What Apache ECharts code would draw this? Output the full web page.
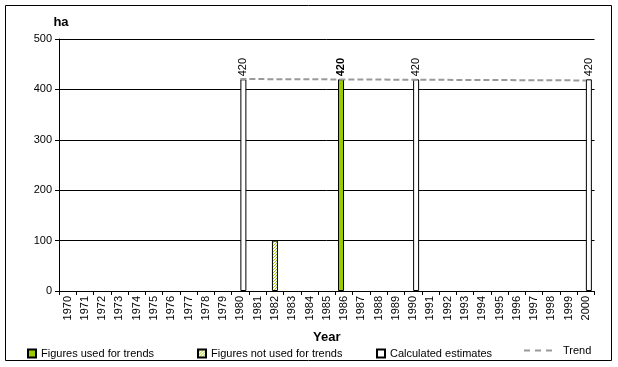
<!DOCTYPE html>
<html>
<head>
<meta charset="utf-8">
<script src="https://cdn.jsdelivr.net/npm/echarts@6/dist/echarts.min.js"></script>
<style>html,body{margin:0;padding:0;background:#fff;}#c{width:618px;height:367px;}</style>
</head>
<body>
<div id="c"></div>
<script>
const years = ['1970','1971','1972','1973','1974','1975','1976','1977','1978','1979','1980','1981','1982','1983','1984','1985','1986','1987','1988','1989','1990','1991','1992','1993','1994','1995','1996','1997','1998','1999','2000'];
const usedForTrends = {'1986': 420};
const notUsedForTrends = {'1982': 100};
const calculatedEstimates = {'1980': 420, '1990': 420, '2000': 420};
const trend = {'1980': 420.6, '2000': 417.8};
const yTicks = [0, 100, 200, 300, 400, 500];

function toSeries(obj) { return years.map(y => (y in obj ? obj[y] : null)); }

const FONT = 'Arial, "Liberation Sans", sans-serif';
const GREEN = '#99cc00';

// hatched pattern
const pc = document.createElement('canvas');
pc.width = 3; pc.height = 3;
const px = pc.getContext('2d');
px.fillStyle = '#ffffff'; px.fillRect(0, 0, 3, 3);
px.fillStyle = GREEN;
px.fillRect(2, 0, 1, 1); px.fillRect(1, 1, 1, 1); px.fillRect(0, 2, 1, 1);

const chart = echarts.init(document.getElementById('c'), null, {renderer: 'canvas'});

const barLabel = (bold) => ({
  show: true, position: 'top', rotate: 90, align: 'left', verticalAlign: 'middle',
  distance: 3, color: '#000', fontFamily: FONT, fontSize: 11, fontWeight: bold ? 'bold' : 'normal',
  formatter: p => (p.value == null ? '' : String(p.value))
});

const txt = {fontFamily: FONT, fontSize: 11, color: '#000'};

chart.setOption({
  animation: false,
  backgroundColor: '#fff',
  grid: {left: 59, top: 39, right: 23.5, bottom: 76, containLabel: false},
  graphic: [{
    type: 'rect', shape: {x: 5.5, y: 5.5, width: 606, height: 355},
    style: {fill: 'none', stroke: '#000', lineWidth: 1}, silent: true, z: -10
  }],
  legend: [
    {left: 22, top: 343, itemWidth: 8, itemHeight: 8, icon: 'rect', textStyle: txt, data: ['Figures used for trends']},
    {left: 192, top: 343, itemWidth: 8, itemHeight: 8, icon: 'rect', textStyle: txt, data: ['Figures not used for trends']},
    {left: 371, top: 343, itemWidth: 8, itemHeight: 8, icon: 'rect', textStyle: txt, data: ['Calculated estimates']},
    {left: 519, top: 340, itemWidth: 28, itemHeight: 2,
      icon: 'path://M0,0h6v2h-6z M11,0h6v2h-6z M22,0h6v2h-6z',
      itemStyle: {color: '#999999', borderWidth: 0},
      textStyle: Object.assign({}, txt, {padding: [0, 0, 2, 6]}), data: ['Trend']}
  ],
  xAxis: {
    type: 'category', data: years, boundaryGap: true,
    name: 'Year', nameLocation: 'middle', nameGap: 46,
    nameTextStyle: {fontFamily: FONT, fontSize: 13, fontWeight: 'bold', color: '#000', verticalAlign: 'middle'},
    axisLine: {show: true, lineStyle: {color: '#000', width: 1}},
    axisTick: {show: true, interval: 0, length: 4, lineStyle: {color: '#000'}},
    axisLabel: {interval: 0, rotate: 90, margin: 5, fontFamily: FONT, fontSize: 11, color: '#000'},
    splitLine: {show: false}
  },
  yAxis: {
    type: 'value', min: 0, max: 500, interval: 100,
    name: 'ha', nameLocation: 'end', nameGap: 17,
    nameTextStyle: {fontFamily: FONT, fontSize: 13, fontWeight: 'bold', color: '#000', align: 'center', verticalAlign: 'middle', padding: [0, 0, 0, 4]},
    axisLine: {show: true, lineStyle: {color: '#000', width: 1}},
    axisTick: {show: true, length: 4, lineStyle: {color: '#000'}},
    axisLabel: {margin: 7, fontFamily: FONT, fontSize: 11, color: '#000',
      formatter: v => (yTicks.indexOf(v) >= 0 ? String(v) : '')},
    splitLine: {show: true, lineStyle: {color: '#000', width: 1, type: 'solid'}}
  },
  series: [
    {
      name: 'Figures used for trends', type: 'bar', data: toSeries(usedForTrends),
      barWidth: 6, barGap: '-50%',
      itemStyle: {color: GREEN, borderColor: '#000', borderWidth: 1},
      label: barLabel(true), z: 2
    },
    {
      name: 'Figures not used for trends', type: 'bar', data: toSeries(notUsedForTrends),
      barWidth: 6, barGap: '-50%',
      itemStyle: {color: {image: pc, repeat: 'repeat'}, borderColor: '#000', borderWidth: 1},
      label: {show: false}, z: 2
    },
    {
      name: 'Calculated estimates', type: 'bar', data: toSeries(calculatedEstimates),
      barWidth: 6, barGap: '-50%',
      itemStyle: {color: '#fff', borderColor: '#000', borderWidth: 1},
      label: barLabel(false), z: 2
    },
    {
      name: 'Trend', type: 'line', data: toSeries(trend), connectNulls: true,
      symbol: 'none', showSymbol: false,
      lineStyle: {color: '#999999', width: 2, type: [6, 3]},
      itemStyle: {color: '#999999'}, z: 5
    }
  ]
});
</script>
</body>
</html>
